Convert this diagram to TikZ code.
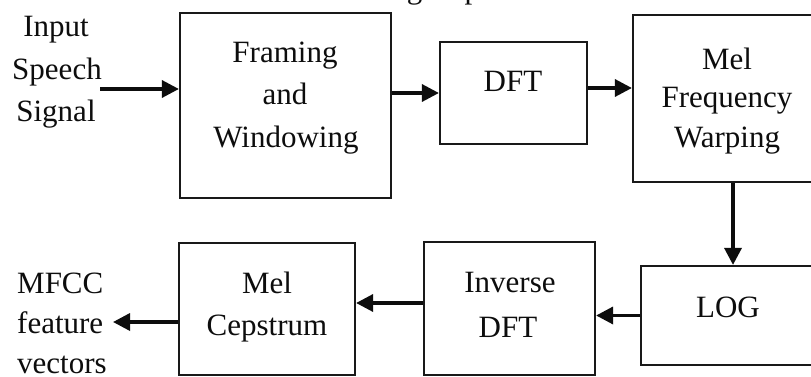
\documentclass[tikz,border=0pt]{standalone}
\usepackage{fontspec}
\setmainfont{Liberation Serif}
\usetikzlibrary{arrows.meta}
\begin{document}
\begin{tikzpicture}[x=1pt,y=-1pt,
  box/.style={draw=black!90,line width=2.2pt,rectangle,inner sep=0pt},
  lbl/.style={anchor=base,inner sep=0pt,text=black!95,font=\fontsize{31}{40}\selectfont},
  lbll/.style={anchor=base west,inner sep=0pt,text=black!95,font=\fontsize{31}{40}\selectfont},
  arr/.style={line width=3.4pt,draw=black!95,-{Triangle[length=17pt,width=17pt]}}]
\useasboundingbox (0,0) rectangle (811,377);
\clip (0,0) rectangle (811,377);
\fill[white] (0,0) rectangle (811,377);
% clipped sentence at the very top
\node[anchor=base east,inner sep=0pt,text=black!95,font=\fontsize{31}{40}\selectfont] (top) at (501,-1) {MFCC includes the following steps:};
% boxes
\node[box,minimum width=211pt,minimum height=185pt] (frame) at (285.5,105.5) {};
\node[box,minimum width=147pt,minimum height=102pt] (dft) at (513.5,93) {};
\node[box,minimum width=190pt,minimum height=167pt] (mel) at (728,98.5) {};
\node[box,minimum width=172pt,minimum height=99pt] (log) at (727,315.5) {};
\node[box,minimum width=171pt,minimum height=133pt] (inv) at (509.5,308.5) {};
\node[box,minimum width=176pt,minimum height=132pt] (cep) at (267,309) {};
% texts
\node[lbl] (in1) at (56,37) {Input};
\node[lbl] (in2) at (57,80) {Speech};
\node[lbl] (in3) at (56,122) {Signal};
\node[lbl] (fr1) at (285,63) {Framing};
\node[lbl] (fr2) at (285,105) {and};
\node[lbl] (fr3) at (286,148) {Windowing};
\node[lbl] (dftt) at (513,92) {DFT};
\node[lbl] (me1) at (727,70) {Mel};
\node[lbl] (me2) at (727,108) {Frequency};
\node[lbl] (me3) at (727,147) {Warping};
\node[lbl] (logt) at (728,317) {LOG};
\node[lbl] (iv1) at (510,292) {Inverse};
\node[lbl] (iv2) at (508,337) {DFT};
\node[lbl] (ce1) at (267,293) {Mel};
\node[lbl] (ce2) at (267,335) {Cepstrum};
\node[lbll] (mf1) at (17,293) {MFCC};
\node[lbll] (mf2) at (17,333) {feature};
\node[lbll] (mf3) at (17,373) {vectors};
% connectors
\coordinate (inStart) at (100,89);
\draw[arr] (inStart) -- (inStart -| frame.west);
\draw[arr] (frame.east |- dft.west) -- (dft.west);
\coordinate (d2m) at ([yshift=5pt]dft.east);
\draw[arr] (d2m) -- (d2m -| mel.west);
\coordinate (m2l) at ([xshift=5pt]mel.south);
\draw[arr] (m2l) -- (m2l |- log.north);
\draw[arr] (log.west) -- (log.west -| inv.east);
\coordinate (i2c) at ([yshift=5.5pt]inv.west);
\draw[arr] (i2c) -- (i2c -| cep.east);
\coordinate (c2m) at ([yshift=-13pt]cep.west);
\coordinate (outEnd) at (113,322);
\draw[arr] (c2m) -- (outEnd);
\end{tikzpicture}
\end{document}
